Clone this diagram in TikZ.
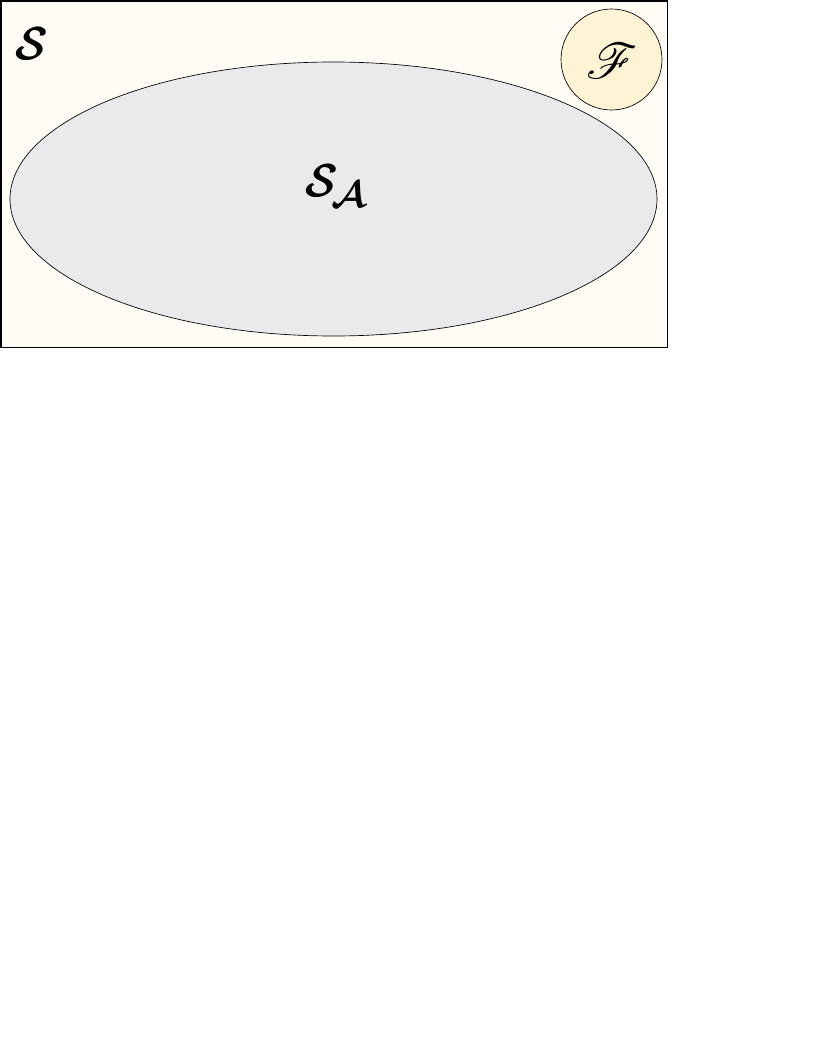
\documentclass[tikz,border=0pt]{standalone}
\usepackage{amsmath,amssymb,bm,graphicx}
\usepackage{mathrsfs}
\usetikzlibrary{shapes.geometric}
\definecolor{bgS}{HTML}{FFFBF5}
\definecolor{ellA}{HTML}{E8EAEC}
\definecolor{circF}{HTML}{FFF3D6}
\tikzset{
  setbox/.style={draw=black, line width=0.8pt, fill=bgS},
  setell/.style={draw=black, line width=0.5pt, fill=ellA},
  setcirc/.style={draw=black, line width=0.5pt, fill=circF},
  lbl/.style={inner sep=0pt}
}
\begin{document}
\begin{tikzpicture}[x=0.75pt,y=-0.75pt]
\useasboundingbox (0,0) rectangle (816,1056);
\node[setbox, minimum width=666*0.75pt, minimum height=346*0.75pt, anchor=north west, inner sep=0pt] (S) at (0.5,0.5) {};
\node[setell, ellipse, minimum width=647*0.75pt, minimum height=274*0.75pt, inner sep=0pt] (SA) at (333.5,199) {};
\node[setcirc, circle, minimum size=101*0.75pt, inner sep=0pt] (F) at (611.5,59.5) {};
\node[lbl] (lS) at (33,44) {\scalebox{1.35}{\Huge$\pmb{\mathcal{S}}$}};
\node[lbl] (lSA) at (337,186) {\scalebox{1.35}{\Huge$\pmb{\mathcal{S}}_{\!\bm{\mathcal{A}}}$}};
\node[lbl] (lF) at (612,61) {\scalebox{1.5}{\Huge$\mathscr{F}$}};
\end{tikzpicture}
\end{document}
